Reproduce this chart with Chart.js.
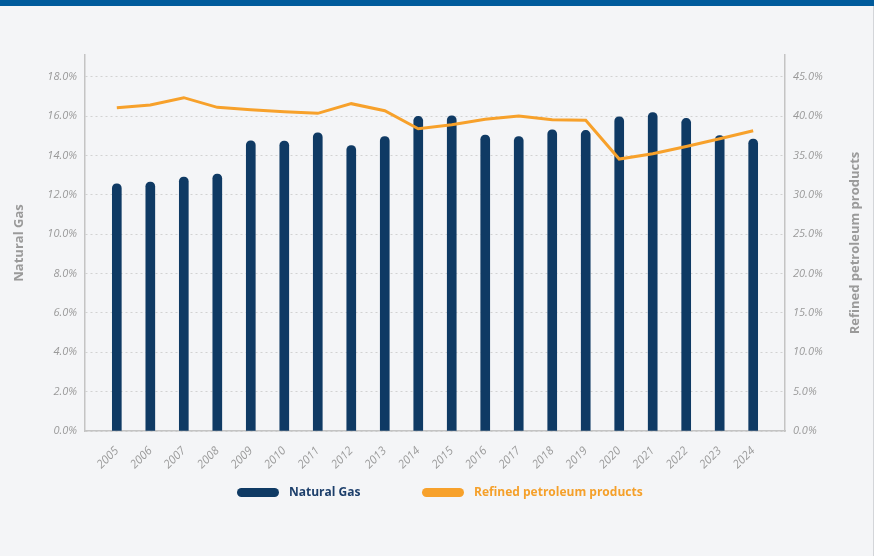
<!DOCTYPE html>
<html>
<head>
<meta charset="utf-8">
<script src="https://cdn.jsdelivr.net/npm/chart.js@4.4.0/dist/chart.umd.min.js"></script>
<style>
  html, body { margin: 0; padding: 0; background: #f4f5f7; }
  #wrap { position: relative; width: 874px; height: 556px; overflow: hidden; }
  #barra { position: absolute; left: 0; top: 0; width: 874px; height: 6px; background: #005b9c; }
  #borde { position: absolute; right: 0; top: 6px; width: 1px; height: 550px; background: #d3d5d9; }
  #grafica { position: absolute; left: 0; top: 6px; }
  .leyenda { position: absolute; top: 485px; font-family: "Open Sans", sans-serif; font-weight: bold; font-size: 12px; line-height: 14px; }
  .leyenda span.caja { position: absolute; top: 3px; width: 42px; height: 9px; border-radius: 5px; }
  .leyenda span.txt { position: absolute; white-space: nowrap; }
</style>
</head>
<body>
<div id="wrap">
  <div id="barra"></div>
  <canvas id="grafica" width="874" height="550"></canvas>
  <div id="borde"></div>
  <div class="leyenda" id="ley0" style="left:237px"><span class="caja" style="background:#0f3a64"></span><span class="txt" style="left:52px;color:#1d3f6b">Natural Gas</span></div>
  <div class="leyenda" id="ley1" style="left:422px"><span class="caja" style="background:#f7a12b"></span><span class="txt" style="left:52px;color:#f5a02a">Refined petroleum products</span></div>
</div>
<script>
const anios = ['2005', '2006', '2007', '2008', '2009', '2010', '2011', '2012', '2013', '2014',
               '2015', '2016', '2017', '2018', '2019', '2020', '2021', '2022', '2023', '2024'];

// porcentaje gas natural (eje izquierdo)
const gasNatural = [12.56, 12.65, 12.9, 13.05, 14.74, 14.73, 15.15, 14.5, 14.96, 15.98,
                    16.01, 15.03, 14.96, 15.3, 15.27, 15.96, 16.18, 15.88, 15.01, 14.83];

// porcentaje productos refinados (eje derecho)
const refinados = [41.06, 41.4, 42.33, 41.1, 40.8, 40.55, 40.34, 41.57, 40.68, 38.39,
                   38.9, 39.6, 40.0, 39.53, 39.45, 34.53, 35.21, 36.14, 37.12, 38.13];

const ticksIzq = [0, 2, 4, 6, 8, 10, 12, 14, 16, 18];
const ticksDer = [0, 5, 10, 15, 20, 25, 30, 35, 40, 45];

const gris = '#9a9a9a';
const fuente = '"Open Sans", sans-serif';

// titulo del eje derecho leido de abajo hacia arriba, como en el original
const tituloDerecho = {
    id: 'tituloDerecho',
    afterDraw(chart) {
        const { ctx, chartArea } = chart;
        ctx.save();
        ctx.translate(855, (chartArea.top + chartArea.bottom) / 2);
        ctx.rotate(-Math.PI / 2);
        ctx.font = 'bold 13px ' + fuente;
        ctx.fillStyle = gris;
        ctx.textAlign = 'center';
        ctx.textBaseline = 'middle';
        ctx.fillText('Refined petroleum products', 0, 0);
        ctx.restore();
    }
};

const ctx = document.getElementById('grafica').getContext('2d');

new Chart(ctx, {
    data: {
        datasets: [
            {
                type: 'line',
                label: 'Refined petroleum products',
                data: refinados.map((v, i) => ({ x: i, y: v })),
                yAxisID: 'y1',
                borderColor: '#f7a12b',
                borderWidth: 3,
                pointRadius: 0,
                tension: 0,
                order: 0
            },
            {
                type: 'bar',
                label: 'Natural Gas',
                data: gasNatural.map((v, i) => ({ x: i, y: v })),
                yAxisID: 'y',
                backgroundColor: '#0f3a64',
                barThickness: 9,
                borderRadius: 5,
                order: 1
            }
        ]
    },
    options: {
        responsive: false,
        animation: false,
        devicePixelRatio: 1,
        layout: { padding: { top: 49, bottom: 80, left: 0, right: 0 } },
        plugins: {
            legend: { display: false },
            tooltip: { enabled: false }
        },
        scales: {
            x: {
                type: 'linear',
                offset: false,
                min: -0.95,
                max: 19.95,
                afterBuildTicks: s => { s.ticks = anios.map((_, i) => ({ value: i })); },
                afterFit: s => { s.height = 45; },
                grid: { display: false },
                border: { display: true, color: '#c4c4c4', width: 1.5 },
                ticks: {
                    autoSkip: false,
                    maxRotation: 45,
                    minRotation: 45,
                    padding: 5,
                    color: gris,
                    font: { family: fuente, size: 11.5, style: 'italic' },
                    callback: v => anios[v]
                }
            },
            y: {
                position: 'left',
                min: 0,
                max: 19.1,
                afterBuildTicks: s => { s.ticks = ticksIzq.map(v => ({ value: v })); },
                afterFit: s => { s.width = 85; },
                grid: { color: '#d2d2d2', drawTicks: false },
                border: { display: true, color: '#c4c4c4', width: 1.5, dash: [2, 3] },
                ticks: {
                    padding: 8,
                    color: gris,
                    font: { family: fuente, size: 11, style: 'italic' },
                    callback: v => v.toFixed(1) + '%'
                },
                title: {
                    display: true,
                    text: 'Natural Gas',
                    color: gris,
                    font: { family: fuente, size: 13, weight: 'bold' },
                    padding: { top: 11, bottom: 0 }
                }
            },
            y1: {
                position: 'right',
                min: 0,
                max: 47.75,
                afterBuildTicks: s => { s.ticks = ticksDer.map(v => ({ value: v })); },
                afterFit: s => { s.width = 89; },
                grid: { display: false, drawTicks: false },
                border: { display: true, color: '#c4c4c4', width: 1.5 },
                ticks: {
                    padding: 8,
                    color: gris,
                    font: { family: fuente, size: 11, style: 'italic' },
                    callback: v => v.toFixed(1) + '%'
                }
            }
        }
    },
    plugins: [tituloDerecho]
});
</script>
</body>
</html>
